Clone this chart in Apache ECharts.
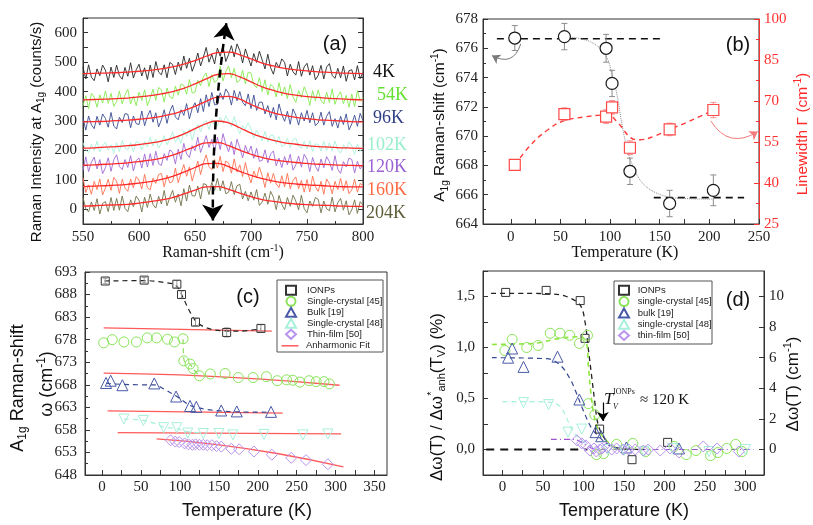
<!DOCTYPE html>
<html><head><meta charset="utf-8">
<script src="https://cdn.jsdelivr.net/npm/echarts@6/dist/echarts.min.js"></script>
<style>html,body{margin:0;padding:0;background:#fff}#c{width:813px;height:525px}</style>
</head><body><div id="c"></div>
<script>
// ================= DATA =================
// ---- panel (a): Raman spectra ----
const specLabels = ['4K','54K','96K','102K','120K','160K','204K'];
const rawStart = 550, rawStep = 2.5; // raw spectra sampled every 2.5 cm-1 from 550 to 800
const raw4K = [483,443,491,449,437,477,454,490,473,433,483,448,490,454,442,482,452,498,446,474,493,453,481,441,490,448,502,466,457,491,447,499,492,458,500,472,521,479,513,469,495,531,487,517,550,500,526,494,548,520,556,502,526,556,518,562,539,497,545,515,487,529,499,537,507,477,527,481,459,499,481,511,499,453,493,467,456,502,452,484,496,456,488,440,455,489,443,483,495,455,445,479,447,487,435,471,474,440,488,444,465];
const raw54K = [352,386,342,394,381,347,389,361,402,360,394,350,366,402,358,388,408,358,384,352,398,370,406,352,378,408,370,414,406,364,412,382,376,418,388,426,421,391,441,395,398,438,420,450,463,417,457,431,440,486,436,468,487,447,479,431,438,472,426,466,463,423,413,447,400,440,388,424,416,382,430,386,416,376,424,382,363,403,380,416,393,353,403,368,406,370,358,398,363,409,357,385,399,359,387,347,391,349,403,367,380];
const raw96K = [311,269,317,287,274,316,286,324,309,279,329,283,273,313,295,325,323,277,317,291,288,334,284,316,336,296,328,280,304,338,292,332,354,314,304,338,319,359,307,343,362,328,376,332,389,349,397,355,356,396,373,409,394,354,404,369,400,364,352,392,342,388,336,364,364,324,352,312,346,304,358,322,299,333,289,341,320,286,328,300,336,294,328,284,294,330,286,316,332,282,308,276,316,288,324,270,290,320,282,326,301];
const raw102K = [226,201,193,221,199,231,195,215,228,200,219,191,226,196,234,209,202,226,195,231,226,202,231,212,245,215,239,208,225,250,219,240,263,228,246,224,267,248,273,235,268,289,263,294,301,271,305,284,283,313,292,318,301,280,315,283,257,285,273,294,273,241,269,251,232,265,230,252,252,224,247,213,218,241,209,237,242,214,207,231,205,233,196,222,221,198,231,200,226,198,232,203,191,220,203,229,215,187,222,197,210];
const raw120K = [132,178,128,160,177,137,169,121,141,175,129,169,185,145,135,169,142,182,130,166,174,140,188,144,189,149,197,155,149,189,166,202,194,154,204,169,224,188,176,216,199,245,193,221,250,210,238,198,245,203,257,221,196,230,186,238,209,175,217,189,215,173,207,163,166,202,158,188,198,148,174,142,179,151,187,133,151,181,143,187,170,128,176,146,129,171,141,179,162,132,182,136,122,162,144,174,169,123,163,137,152];
const raw160K = [107,57,83,51,95,67,103,49,72,102,64,108,96,54,102,72,61,103,73,111,99,69,119,73,66,106,88,118,122,76,116,90,94,140,90,122,152,112,144,96,130,164,118,158,185,145,135,169,140,180,128,164,157,123,171,127,151,111,159,117,90,130,107,143,114,74,124,89,122,86,74,114,76,122,70,98,110,70,98,58,101,59,113,77,61,95,51,103,87,53,95,67,105,63,97,53,66,102,58,88,80];
const raw204K = [41,1,-9,25,-4,36,-16,20,26,-8,40,-4,37,-3,45,3,-8,32,9,45,31,-9,41,6,52,16,4,44,18,64,12,40,64,24,52,12,70,28,82,46,45,79,35,87,84,50,92,64,105,63,97,53,58,94,50,80,85,35,61,29,59,31,67,13,25,55,17,61,41,-1,47,17,-2,40,10,48,28,-2,48,2,-12,28,10,40,34,-12,28,2,-5,41,-9,23,37,-3,29,-19,-2,32,-14,26,14];
const fitX = [550,560,570,580,590,600,610,620,630,640,650,660,670,680,690,700,710,720,730,740,750,760,770,780,790,800];
const fit4K = [461,462,463,464,466,469,472,477,484,493,505,520,532,534,525,511,497,487,479,474,470,467,465,463,462,461];
const fit54K = [372,373,374,376,378,382,386,392,400,411,426,443,458,461,450,433,416,404,394,388,383,380,377,375,373,372];
const fit96K = [297,298,299,301,303,306,310,316,324,335,350,367,381,384,374,356,340,328,319,312,308,304,302,300,298,297];
const fit102K = [208,209,211,213,216,220,225,232,242,256,274,291,300,294,277,259,245,234,226,221,216,213,211,209,208,207];
const fit120K = [150,151,153,155,158,162,167,174,184,198,213,226,227,216,201,187,176,168,163,159,156,153,152,150,149,148];
const fit160K = [77,79,80,82,85,89,94,102,112,126,142,155,156,145,129,115,104,96,90,86,83,81,79,77,76,76];
const fit204K = [11,12,14,15,17,21,26,32,40,52,65,76,77,68,55,43,33,27,22,18,16,14,13,11,10,10];
const aArrowX = [666, 678];
const aArrowY = [-38, 632];

// ---- panel (b) ----
const bTemp = [4,54,96,102,120,160,204];
const bShift = [676.7,676.8,676.0,673.6,667.6,665.4,666.3];
const bShiftErr = [0.85,0.9,0.95,0.9,0.9,0.9,1.05];
const bWidth = [46.6,65.2,64.3,67.7,52.9,59.6,66.7];
const bWidthErr = [2.0,2.3,2.5,2.5,2.5,2.3,2.8];
const bShiftFitT = [54,80,95.5,102,107,112,117,124,134,151,171,204];
const bShiftFit = [676.8,676.45,675.5,674.2,672.8,670.8,669.2,667.8,666.7,666.0,665.75,665.7];
const bWidthGuideT = [4,20,37,53,75,97,108,121,130,145,160,180,204];
const bWidthGuide = [46.6,53.9,59.4,62.7,64.2,64.9,62,56.5,55.8,57.2,59.6,62.6,66.7];
const bHighT = [-14,153], bHigh = [676.65,676.65];
const bLowT = [144,235], bLow = [665.8,665.8];
const bArrowLeft = [[10,676.3],[-19,675.5]];
const bArrowRight = [[201.5,62.7],[248.7,58.8]];

// ---- panel (c) ----
const cIonT = [4,54,96,102,120,160,204];
const cIon = [691.0,691.2,690.3,688.0,681.9,679.6,680.5];
const cIonErr = [0.6,0.6,0.8,0.8,0.8,1.0,0.8];
const cIonGuideT = [3,54,79,95,104.5,113,121.6,134.4,151.5,177,204];
const cIonGuide = [691.0,691.1,690.7,690.0,687.1,684.1,681.9,680.6,680.0,679.9,680.4];
const cSc45T = [2,13,28,44,58,70,84,93,104,105,113,117,125,139,158,175,194,211,225,237,245,254,266,275,285,292];
const cSc45 = [677.3,678.0,677.5,677.5,678.4,678.4,678.1,677.5,678.2,673.3,672.6,671.6,670.0,670.4,670.5,669.6,669.6,669.8,668.9,669.1,669.0,668.6,668.9,668.7,668.7,668.2];
const cSc45GuideT = [104,105.4,113,116.5,125];
const cSc45Guide = [678.1,673.3,672.6,671.6,670.0];
const cBulkT = [5,11,26,67,95,113,121,153,173,217];
const cBulk = [668.4,668.9,667.9,668.3,665.4,663.3,663.1,662.3,662.1,662.0];
const cBulkGuideT = [5,25,50,67,80,95,105,113,121,135,152,173,217];
const cBulkGuide = [668.3,668.1,668.0,668.0,667.0,665.5,664.3,663.4,663.0,662.5,662.2,662.0,661.9];
const cSc48T = [28,53,79,96,110,130,150,168,208,258,290];
const cSc48 = [660.4,660.1,658.5,658.5,657.3,657.2,657.2,656.9,657.0,656.9,657.1];
const cSc48GuideT = [28,53,70,79,96,110,130];
const cSc48Guide = [660.4,660.1,659.3,658.6,658.3,657.6,657.3];
const cThinT = [88,94,99,106,111,116,120,125,130,135,141,147,153,166,176,195,218,243,262,290];
const cThin = [655.7,655.4,655.3,655.0,654.8,654.7,654.8,654.7,654.7,654.6,654.6,654.4,654.3,653.8,653.7,653.2,652.5,651.8,651.3,650.4];
const cFitIonT = [2,218], cFitIon = [680.6,679.9];
const cFitSc45T = [2,100,200,305], cFitSc45 = [670.6,670.2,669.3,667.9];
const cFitBulkT = [7,232], cFitBulk = [662.2,661.7];
const cFitSc48T = [20,307], cFitSc48 = [657.4,657.1];
const cFitThinT = [70,150,230,310], cFitThin = [656.0,654.7,652.6,649.8];

// ---- panel (d) ----
const dIonT = [4,54,96,102,120,160,204];
const dIon = [1.54,1.56,1.46,1.09,0.20,-0.10,0.07];
const dIonGuideT = [-14,30,60,79,96,102,106,110,114,118,125,135,150,175];
const dIonGuide = [1.53,1.53,1.525,1.50,1.415,1.25,0.99,0.73,0.47,0.25,0.12,0.035,0.005,0];
const dSc45T = [3,12,30,44,59,71,83,95,105,106,114,116,125,141,161,177,212,227,239,257,266,277,288,296];
const dSc45 = [0.97,1.08,1.00,1.02,1.14,1.14,1.12,1.04,1.12,0.45,0.34,-0.05,-0.04,0.05,0.06,-0.02,0.03,-0.05,-0.01,-0.06,-0.03,0.01,0.05,-0.02];
const dSc45GuideT = [-13,38,71,96,104,106,109,112,118,127,137,150];
const dSc45Guide = [1.03,1.04,1.09,1.105,1.04,0.83,0.57,0.38,0.2,0.1,0.03,0.005];
const dBulkT = [7,12,26,68,95,115,122,153,218];
const dBulk = [0.90,0.99,0.81,0.91,0.49,0.17,0.13,0.02,0.01];
const dBulkGuideT = [-13,55,71,83,92,100,110,120,133,145];
const dBulkGuide = [0.90,0.89,0.83,0.70,0.54,0.38,0.21,0.12,0.035,0.01];
const dSc48T = [26,57,81,98,130,150,175,210,255,300];
const dSc48 = [0.46,0.44,0.17,0.20,0.0,-0.01,-0.02,0.01,-0.02,0.0];
const dSc48GuideT = [0,30,57,71,79,87,96,108,120];
const dSc48Guide = [0.47,0.47,0.465,0.425,0.31,0.18,0.10,0.035,0.01];
const dThinT = [92,98,103,108,113,116,120,123,129,135,141,149,156,164,174,180,195,207,218,248,265,292];
const dThin = [0.09,0.06,0.04,-0.01,0.01,-0.02,0.0,0.01,0.02,0.0,0.01,0.0,0.0,0.0,-0.01,0.0,-0.01,0.01,-0.03,0.03,0.01,-0.02];
const dThinGuideT = [60,88,98,108,118,310];
const dThinGuide = [0.10,0.10,0.07,0.02,0.0,0.0];
const dZeroT = [-20,105], dZero = [0,0];
const dArrow = [[124,0.46],[124,0.28]];

// tick label values
const bXTicks = [0,50,100,150,200,250];
const cXTicks = [0,50,100,150,200,250,300,350];
const dXTicks = [0,50,100,150,200,250,300];
const dRightTicks = [0,2,4,6,8,10];

// legend entries
const cLegendNames = ['IONPs', 'Single-crystal [45]', 'Bulk [19]', 'Single-crystal [48]', 'Thin-film [50]'];
const dLegendNames = ['IONPs', 'single-crystal [45]', 'bulk [19]', 'single-crystal [48]', 'thin-film [50]'];

// ================= CHART =================
const SERIF = 'Liberation Serif', SANS = 'Liberation Sans';
const zip = (xs, ys) => xs.map((x, i) => [x, ys[i]]);
const rawX = raw4K.map((_, i) => rawStart + rawStep * i);
const minorOf = (vals) => { const o = []; for (let i = 0; i < vals.length; i++) { o.push(vals[i]); if (i < vals.length - 1) o.push((vals[i] + vals[i + 1]) / 2); } return o; };

function axis(o) {
  const color = o.color || '#333';
  return {
    type: 'value', gridIndex: o.grid, position: o.pos, min: o.min, max: o.max, interval: o.interval,
    axisLine: { show: true, onZero: false, lineStyle: { color, width: 1 } },
    axisTick: { show: true, inside: true, length: 5, lineStyle: { color }, customValues: o.tickVals },
    minorTick: { show: !!o.minor, splitNumber: o.minor || 5, length: 3, lineStyle: { color } },
    splitLine: { show: false }, minorSplitLine: { show: false },
    axisLabel: { show: o.showLabel !== false, fontFamily: SERIF, fontSize: 15, color: o.labelColor || '#222',
      margin: o.margin == null ? 6 : o.margin, formatter: o.fmt, customValues: o.labelVals },
    silent: true
  };
}

const xAxes = [
  axis({ grid: 0, pos: 'bottom', min: 550, max: 800, interval: 50, minor: 2, margin: 6 }),
  axis({ grid: 1, pos: 'bottom', min: -28, max: 250, labelVals: bXTicks, tickVals: minorOf(bXTicks), margin: 6 }),
  axis({ grid: 2, pos: 'bottom', min: -22, max: 366, labelVals: cXTicks, tickVals: minorOf(cXTicks), margin: 5 }),
  axis({ grid: 3, pos: 'bottom', min: -24, max: 323, labelVals: dXTicks, tickVals: minorOf(dXTicks), margin: 5 })
];
const yAxes = [
  axis({ grid: 0, pos: 'left', min: -50, max: 650, interval: 50, margin: 6,
    fmt: v => (v >= 0 && v <= 600 && Math.round(v) % 100 === 0) ? String(Math.round(v)) : '' }),
  axis({ grid: 0, pos: 'right', min: -50, max: 650, interval: 50, showLabel: false }),
  axis({ grid: 1, pos: 'left', min: 664, max: 678, interval: 2, minor: 2, margin: 5 }),
  axis({ grid: 1, pos: 'right', min: 25, max: 100, interval: 15, minor: 2, margin: 5, color: '#ff3030', labelColor: '#ff3030' }),
  axis({ grid: 2, pos: 'left', min: 648, max: 693, interval: 5, minor: 2, margin: 8 }),
  axis({ grid: 3, pos: 'left', min: -0.25, max: 1.75, interval: 0.25, margin: 8,
    fmt: v => { const k = v * 2; return (v >= -1e-9 && Math.abs(k - Math.round(k)) < 1e-6) ? v.toFixed(1).replace('.', ',') : ''; } }),
  axis({ grid: 3, pos: 'right', min: -5 / 3, max: 35 / 3, labelVals: dRightTicks, tickVals: dRightTicks, margin: 5 })
];

function lineS(name, xi, yi, xs, ys, color, width, type, smooth, z) {
  return { type: 'line', name, xAxisIndex: xi, yAxisIndex: yi, data: zip(xs, ys), symbol: 'none', showSymbol: false,
    smooth: smooth || false, lineStyle: { color, width, type: type || 'solid' }, itemStyle: { color }, silent: true, z: z || 2 };
}
function scat(name, xi, yi, xs, ys, symbol, size, color, rotate, fill, bw) {
  return { type: 'scatter', name, xAxisIndex: xi, yAxisIndex: yi, data: zip(xs, ys), symbol, symbolSize: size,
    symbolRotate: rotate || 0, itemStyle: { color: fill || 'rgba(255,255,255,0)', borderColor: color, borderWidth: bw || 1, opacity: 1 }, silent: true, z: 5 };
}
function errS(xi, yi, xs, ys, errs, color, capW) {
  return { type: 'custom', xAxisIndex: xi, yAxisIndex: yi, silent: true, z: 3,
    data: xs.map((x, i) => [x, ys[i] - errs[i], ys[i] + errs[i]]),
    renderItem: (p, api) => {
      const lo = api.coord([api.value(0), api.value(1)]), hi = api.coord([api.value(0), api.value(2)]);
      const st = { stroke: color, lineWidth: 1 };
      return { type: 'group', children: [
        { type: 'line', shape: { x1: lo[0], y1: lo[1], x2: hi[0], y2: hi[1] }, style: st },
        { type: 'line', shape: { x1: lo[0] - capW, y1: lo[1], x2: lo[0] + capW, y2: lo[1] }, style: st },
        { type: 'line', shape: { x1: hi[0] - capW, y1: hi[1], x2: hi[0] + capW, y2: hi[1] }, style: st }] };
    } };
}
function arrowS(xi, yi, pts, color, width, curv, symbols, size, type) {
  return { type: 'lines', coordinateSystem: 'cartesian2d', xAxisIndex: xi, yAxisIndex: yi, silent: true, z: 6,
    symbol: symbols, symbolSize: size,
    lineStyle: { color, width, curveness: curv, type: type || 'solid', opacity: 1 },
    data: [{ coords: pts }] };
}

const series = [];
// (a)
const rawSets = [raw4K, raw54K, raw96K, raw102K, raw120K, raw160K, raw204K];
const fitSets = [fit4K, fit54K, fit96K, fit102K, fit120K, fit160K, fit204K];
const specColors = ['#262626', '#86ea50', '#3a4c92', '#a9f2da', '#a06ad4', '#ff7050', '#72724a'];
rawSets.forEach((r, i) => series.push(lineS('raw' + specLabels[i], 0, 0, rawX, r, specColors[i], 0.9, 'solid', false, 2)));
fitSets.forEach((f, i) => series.push(lineS('fit' + specLabels[i], 0, 0, fitX, f, '#ff2a2a', 1.3, 'solid', true, 3)));
series.push(arrowS(0, 0, zip(aArrowX, aArrowY), '#000', 2.5, 0.04, ['arrow', 'arrow'], 16, [8, 5]));

// (b)
series.push(lineS('bHigh', 1, 2, bHighT, bHigh, '#111', 1.6, [7, 5]));
series.push(lineS('bLow', 1, 2, bLowT, bLow, '#111', 1.6, [7, 5]));
series.push(lineS('bShiftFit', 1, 2, bShiftFitT, bShiftFit, '#8a8a8a', 1, 'dotted', 0.4));
series.push(lineS('bWidthGuide', 1, 3, bWidthGuideT, bWidthGuide, '#ff3a3a', 1.4, [5, 4], 0.4));
series.push(errS(1, 2, bTemp, bShift, bShiftErr, '#8c8c8c', 3));
series.push(errS(1, 3, bTemp, bWidth, bWidthErr, '#f39090', 3));
series.push(scat('A1g shift', 1, 2, bTemp, bShift, 'circle', 12, '#1a1a1a', 0, '#fff', 1.2));
series.push(scat('Linewidth', 1, 3, bTemp, bWidth, 'rect', 11, '#ff4a4a', 0, '#fff', 1.2));
series.push(arrowS(1, 2, bArrowLeft, '#7a7a7a', 1, 0.6, ['none', 'arrow'], 8));
series.push(arrowS(1, 3, bArrowRight, '#f37b7b', 1, -0.5, ['none', 'arrow'], 8));

// (c)
[[cFitIonT, cFitIon], [cFitSc45T, cFitSc45], [cFitBulkT, cFitBulk], [cFitSc48T, cFitSc48], [cFitThinT, cFitThin]]
  .forEach(([t, v]) => series.push(lineS('Anharmonic Fit', 2, 4, t, v, '#ff5a5a', 1.3, 'solid', true, 2)));
series.push(lineS('cIonGuide', 2, 4, cIonGuideT, cIonGuide, '#222', 1.2, [5, 4], 0.35));
series.push(lineS('cSc45Guide', 2, 4, cSc45GuideT, cSc45Guide, '#8fdc5c', 1.2, [5, 4], 0.3));
series.push(lineS('cBulkGuide', 2, 4, cBulkGuideT, cBulkGuide, '#34478f', 1.2, [5, 4], 0.35));
series.push(lineS('cSc48Guide', 2, 4, cSc48GuideT, cSc48Guide, '#a8efd9', 1.2, [5, 4], 0.35));
series.push(errS(2, 4, cIonT, cIon, cIonErr, '#999', 2.5));
series.push(scat(cLegendNames[0], 2, 4, cIonT, cIon, 'rect', 8, '#333'));
series.push(scat(cLegendNames[1], 2, 4, cSc45T, cSc45, 'circle', 10, '#8ae45a'));
series.push(scat(cLegendNames[2], 2, 4, cBulkT, cBulk, 'triangle', 11, '#4a5aa8'));
series.push(scat(cLegendNames[3], 2, 4, cSc48T, cSc48, 'triangle', 10, '#a8f0dc', 180));
series.push(scat(cLegendNames[4], 2, 4, cThinT, cThin, 'diamond', 11, '#b894ec'));

// (d)  (series names carry a " (d)" suffix; the legend formatter strips it)
series.push(lineS('dZero', 3, 5, dZeroT, dZero, '#111', 2, [8, 6], false, 3));
series.push(lineS('dThinGuide', 3, 5, dThinGuideT, dThinGuide, '#9b55cf', 1.2, [6, 3, 1, 3], 0.3));
series.push(lineS('dIonGuide', 3, 5, dIonGuideT, dIonGuide, '#222', 1.3, [5, 4], 0.35));
series.push(lineS('dSc45Guide', 3, 5, dSc45GuideT, dSc45Guide, '#8fe53c', 1.6, [5, 4], 0.35));
series.push(lineS('dBulkGuide', 3, 5, dBulkGuideT, dBulkGuide, '#34478f', 1.2, [5, 4], 0.35));
series.push(lineS('dSc48Guide', 3, 5, dSc48GuideT, dSc48Guide, '#a8efd9', 1.2, [5, 4], 0.35));
series.push(scat(dLegendNames[0] + ' (d)', 3, 5, dIonT, dIon, 'rect', 8, '#333'));
series.push(scat(dLegendNames[1] + ' (d)', 3, 5, dSc45T, dSc45, 'circle', 10, '#8ae45a'));
series.push(scat(dLegendNames[2] + ' (d)', 3, 5, dBulkT, dBulk, 'triangle', 11, '#4a5aa8'));
series.push(scat(dLegendNames[3] + ' (d)', 3, 5, dSc48T, dSc48, 'triangle', 10, '#a8f0dc', 180));
series.push(scat(dLegendNames[4] + ' (d)', 3, 5, dThinT, dThin, 'diamond', 11, '#b894ec'));
series.push(arrowS(3, 5, dArrow, '#000', 1.2, 0, ['none', 'arrow'], 9));

// ---- text ----
function rich(fs, fam, fill) {
  return {
    m: { fontSize: fs, fontFamily: fam, fill, lineHeight: fs + 4 },
    s: { fontSize: Math.round(fs * 0.65), fontFamily: fam, fill, lineHeight: Math.round(fs * 0.65), verticalAlign: 'bottom' },
    u: { fontSize: Math.round(fs * 0.65), fontFamily: fam, fill, lineHeight: Math.round(fs * 0.65), verticalAlign: 'top' },
    i: { fontSize: fs, fontFamily: fam, fill, lineHeight: fs + 4, fontStyle: 'italic' }
  };
}
function txt(x, y, text, fs, fam, fill, rot, align) {
  return { type: 'text', x, y, rotation: rot || 0, silent: true, z: 20,
    style: { text, rich: rich(fs, fam, fill || '#111'), fontSize: fs, fontFamily: fam, fill: fill || '#111', align: align || 'center', verticalAlign: 'middle' } };
}
const R90 = Math.PI / 2;
const specLabelPos = [[373, 72], [377, 95], [373, 118], [367, 145], [367, 167], [367, 190], [366, 213]];
const labelColors = ['#111', '#66e033', '#2f3f86', '#98efcc', '#9a62d2', '#ff6a45', '#5e5e38'];
const graphics = [
  { type: 'rect', z: 3, silent: true, shape: { x: 277, y: 280, width: 106, height: 72 }, style: { fill: '#fff', stroke: '#555', lineWidth: 1 } },
  { type: 'rect', z: 3, silent: true, shape: { x: 614, y: 281, width: 98, height: 63 }, style: { fill: '#fff', stroke: '#555', lineWidth: 1 } },
  txt(335, 44, '{m|(a)}', 20, SANS),
  txt(738, 45, '{m|(b)}', 20, SANS),
  txt(248, 297, '{m|(c)}', 20, SANS),
  txt(738, 300, '{m|(d)}', 20, SANS),
  txt(37, 132, '{m|Raman Intensity at A}{s|1g}{m| (counts/s)}', 15, SANS, '#111', R90),
  txt(223, 253, '{m|Raman-shift (cm}{u|-1}{m|)}', 16, SERIF),
  txt(440, 125, '{m|A}{s|1g}{m| Raman-shift (cm}{u|-1}{m|)}', 15.5, SANS, '#111', R90),
  txt(803, 134, '{m|Linewidth Γ (cm}{u|-1}{m|)}', 15.5, SANS, '#ff2a2a', R90),
  txt(625, 253, '{m|Temperature (K)}', 16, SERIF),
  txt(18, 388, '{m|A}{s|1g}{m| Raman-shift}', 18, SANS, '#111', R90),
  txt(47, 384, '{m|ω (cm}{u|-1}{m|)}', 18, SANS, '#111', R90),
  txt(247, 511, '{m|Temperature (K)}', 18, SANS),
  txt(437, 397, '{m|Δω(T) / Δω}{u|*}{s|anh}{m|(T}{s|V}{m|) (%)}', 17, SANS, '#111', R90),
  txt(793, 384, '{m|Δω(T) (cm}{u|-1}{m|)}', 17, SANS, '#111', R90),
  txt(624, 511, '{m|Temperature (K)}', 18, SANS),
  txt(604, 400, '{i|T}', 17, SERIF, '#111', 0, 'left'),
  txt(613, 392, '{m|IONPs}', 8, SERIF, '#111', 0, 'left'),
  txt(613, 407, '{i|V}', 8, SERIF, '#111', 0, 'left'),
  txt(640, 400, '{m|≈ 120 K}', 15, SERIF, '#111', 0, 'left')
];
specLabels.forEach((l, i) => graphics.push(txt(specLabelPos[i][0], specLabelPos[i][1], '{m|' + l + '}', 18, SERIF, labelColors[i], 0, 'left')));

const legendBase = {
  orient: 'vertical', itemWidth: 10, itemHeight: 9, itemGap: 0, selectedMode: false, padding: 0, z: 4,
  borderWidth: 0, backgroundColor: 'transparent',
  textStyle: { fontFamily: SANS, fontSize: 9.5, color: '#222', lineHeight: 9, padding: [0, 0, 0, 6] }
};
const legends = [
  Object.assign({}, legendBase, { left: 285, top: 284.8, data: cLegendNames.slice() }),
  Object.assign({}, legendBase, { left: 281.5, top: 340.8, itemWidth: 17, itemHeight: 1.5,
    textStyle: Object.assign({}, legendBase.textStyle, { padding: [0, 0, 0, 2.5] }),
    data: [{ name: 'Anharmonic Fit', icon: 'rect' }] }),
  Object.assign({}, legendBase, { left: 618, top: 284.8, itemGap: 0.3,
    formatter: s => s.replace(' (d)', ''),
    textStyle: Object.assign({}, legendBase.textStyle, { padding: [0, 0, 0, 3.7] }),
    data: dLegendNames.map(n => n + ' (d)') })
];

const option = {
  animation: false,
  backgroundColor: '#fff',
  grid: [
    { left: 83, top: 18, width: 280, height: 206, show: true, borderColor: '#333', borderWidth: 1, backgroundColor: 'transparent' },
    { left: 483, top: 19, width: 276, height: 205, show: true, borderColor: '#333', borderWidth: 1, backgroundColor: 'transparent' },
    { left: 85, top: 272, width: 302, height: 203, show: true, borderColor: '#333', borderWidth: 1, backgroundColor: 'transparent' },
    { left: 483, top: 271, width: 281, height: 204, show: true, borderColor: '#333', borderWidth: 1, backgroundColor: 'transparent' }
  ],
  xAxis: xAxes,
  yAxis: yAxes,
  legend: legends,
  series,
  graphic: graphics
};
const chart = echarts.init(document.getElementById('c'));
chart.setOption(option);
</script>
</body></html>
